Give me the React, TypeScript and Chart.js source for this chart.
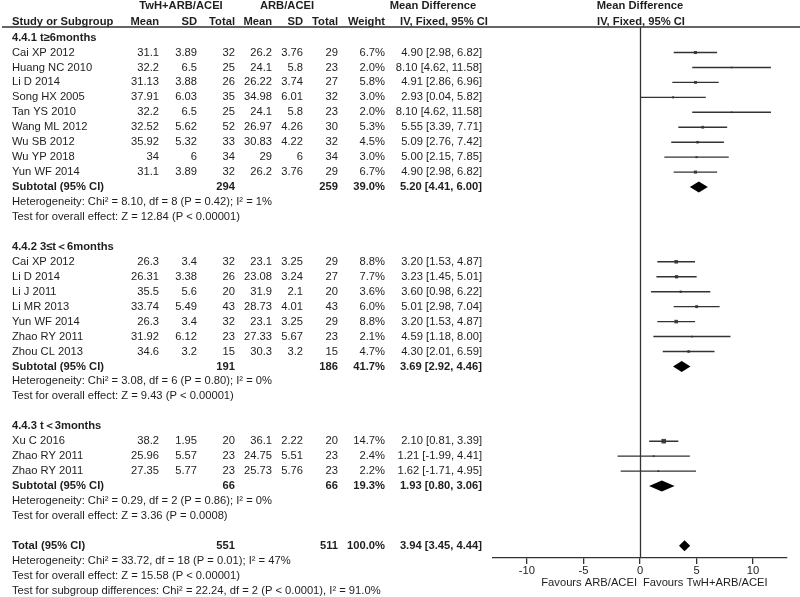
import React, { useEffect, useRef } from 'react';
import { Chart, registerables } from 'chart.js';

Chart.register(...registerables);

// ---------- Data ----------
const group1Label = '4.4.1 t≥6months';
const studies1 = ['Cai XP 2012', 'Huang NC 2010', 'Li D 2014', 'Song HX 2005', 'Tan YS 2010', 'Wang ML 2012', 'Wu SB 2012', 'Wu YP 2018', 'Yun WF 2014'];
const expMean1 = [31.1, 32.2, 31.13, 37.91, 32.2, 32.52, 35.92, 34, 31.1];
const expSd1 = [3.89, 6.5, 3.88, 6.03, 6.5, 5.62, 5.32, 6, 3.89];
const expN1 = [32, 25, 26, 35, 25, 52, 33, 34, 32];
const ctlMean1 = [26.2, 24.1, 26.22, 34.98, 24.1, 26.97, 30.83, 29, 26.2];
const ctlSd1 = [3.76, 5.8, 3.74, 6.01, 5.8, 4.26, 4.22, 6, 3.76];
const ctlN1 = [29, 23, 27, 32, 23, 30, 32, 34, 29];
const weight1 = [6.7, 2.0, 5.8, 3.0, 2.0, 5.3, 4.5, 3.0, 6.7];
const md1 = [4.90, 8.10, 4.91, 2.93, 8.10, 5.55, 5.09, 5.00, 4.90];
const lo1 = [2.98, 4.62, 2.86, 0.04, 4.62, 3.39, 2.76, 2.15, 2.98];
const hi1 = [6.82, 11.58, 6.96, 5.82, 11.58, 7.71, 7.42, 7.85, 6.82];
const sub1 = { expN: 294, ctlN: 259, weight: 39.0, md: 5.20, lo: 4.41, hi: 6.00 };
const het1 = 'Heterogeneity: Chi² = 8.10, df = 8 (P = 0.42); I² = 1%';
const eff1 = 'Test for overall effect: Z = 12.84 (P < 0.00001)';

const group2Label = '4.4.2 3≤t＜6months';
const studies2 = ['Cai XP 2012', 'Li D 2014', 'Li J 2011', 'Li MR 2013', 'Yun WF 2014', 'Zhao RY 2011', 'Zhou CL 2013'];
const expMean2 = [26.3, 26.31, 35.5, 33.74, 26.3, 31.92, 34.6];
const expSd2 = [3.4, 3.38, 5.6, 5.49, 3.4, 6.12, 3.2];
const expN2 = [32, 26, 20, 43, 32, 23, 15];
const ctlMean2 = [23.1, 23.08, 31.9, 28.73, 23.1, 27.33, 30.3];
const ctlSd2 = [3.25, 3.24, 2.1, 4.01, 3.25, 5.67, 3.2];
const ctlN2 = [29, 27, 20, 43, 29, 23, 15];
const weight2 = [8.8, 7.7, 3.6, 6.0, 8.8, 2.1, 4.7];
const md2 = [3.20, 3.23, 3.60, 5.01, 3.20, 4.59, 4.30];
const lo2 = [1.53, 1.45, 0.98, 2.98, 1.53, 1.18, 2.01];
const hi2 = [4.87, 5.01, 6.22, 7.04, 4.87, 8.00, 6.59];
const sub2 = { expN: 191, ctlN: 186, weight: 41.7, md: 3.69, lo: 2.92, hi: 4.46 };
const het2 = 'Heterogeneity: Chi² = 3.08, df = 6 (P = 0.80); I² = 0%';
const eff2 = 'Test for overall effect: Z = 9.43 (P < 0.00001)';

const group3Label = '4.4.3 t＜3months';
const studies3 = ['Xu C 2016', 'Zhao RY 2011', 'Zhao RY 2011'];
const expMean3 = [38.2, 25.96, 27.35];
const expSd3 = [1.95, 5.57, 5.77];
const expN3 = [20, 23, 23];
const ctlMean3 = [36.1, 24.75, 25.73];
const ctlSd3 = [2.22, 5.51, 5.76];
const ctlN3 = [20, 23, 23];
const weight3 = [14.7, 2.4, 2.2];
const md3 = [2.10, 1.21, 1.62];
const lo3 = [0.81, -1.99, -1.71];
const hi3 = [3.39, 4.41, 4.95];
const sub3 = { expN: 66, ctlN: 66, weight: 19.3, md: 1.93, lo: 0.80, hi: 3.06 };
const het3 = 'Heterogeneity: Chi² = 0.29, df = 2 (P = 0.86); I² = 0%';
const eff3 = 'Test for overall effect: Z = 3.36 (P = 0.0008)';

const total = { expN: 551, ctlN: 511, weight: 100.0, md: 3.94, lo: 3.45, hi: 4.44 };
const totalNotes = [
  'Heterogeneity: Chi² = 33.72, df = 18 (P = 0.01); I² = 47%',
  'Test for overall effect: Z = 15.58 (P < 0.00001)',
  'Test for subgroup differences: Chi² = 22.24, df = 2 (P < 0.0001), I² = 91.0%',
];

const xTicks = [-10, -5, 0, 5, 10];
const xMin = -13;
const xMax = 13;
const leftFavour = 'Favours ARB/ACEI';
const rightFavour = 'Favours TwH+ARB/ACEI';

// ---------- Build table ----------
type Group = {
  label: string; studies: string[]; expMean: number[]; expSd: number[]; expN: number[];
  ctlMean: number[]; ctlSd: number[]; ctlN: number[]; weight: number[]; md: number[];
  lo: number[]; hi: number[]; sub: typeof sub1; het: string; eff: string;
};
const groups: Group[] = [
  { label: group1Label, studies: studies1, expMean: expMean1, expSd: expSd1, expN: expN1, ctlMean: ctlMean1, ctlSd: ctlSd1, ctlN: ctlN1, weight: weight1, md: md1, lo: lo1, hi: hi1, sub: sub1, het: het1, eff: eff1 },
  { label: group2Label, studies: studies2, expMean: expMean2, expSd: expSd2, expN: expN2, ctlMean: ctlMean2, ctlSd: ctlSd2, ctlN: ctlN2, weight: weight2, md: md2, lo: lo2, hi: hi2, sub: sub2, het: het2, eff: eff2 },
  { label: group3Label, studies: studies3, expMean: expMean3, expSd: expSd3, expN: expN3, ctlMean: ctlMean3, ctlSd: ctlSd3, ctlN: ctlN3, weight: weight3, md: md3, lo: lo3, hi: hi3, sub: sub3, het: het3, eff: eff3 },
];

type StudyRow = { row: number; name: string; em: number; es: number; en: number; cm: number; cs: number; cn: number; w: number; md: number; lo: number; hi: number };
type SumRow = { row: number; name: string; expN: number; ctlN: number; weight: number; md: number; lo: number; hi: number };
type NoteRow = { row: number; text: string; bold: boolean };

const studyRows: StudyRow[] = [];
const sumRows: SumRow[] = [];
const noteRows: NoteRow[] = [];
let r = 0;
groups.forEach((g) => {
  noteRows.push({ row: r, text: g.label, bold: true });
  r++;
  g.studies.forEach((s, i) => {
    studyRows.push({ row: r, name: s, em: g.expMean[i], es: g.expSd[i], en: g.expN[i], cm: g.ctlMean[i], cs: g.ctlSd[i], cn: g.ctlN[i], w: g.weight[i], md: g.md[i], lo: g.lo[i], hi: g.hi[i] });
    r++;
  });
  sumRows.push({ row: r, name: 'Subtotal (95% CI)', ...g.sub });
  r++;
  noteRows.push({ row: r, text: g.het, bold: false });
  r++;
  noteRows.push({ row: r, text: g.eff, bold: false });
  r += 2;
});
sumRows.push({ row: r, name: 'Total (95% CI)', ...total });
r++;
totalNotes.forEach((t) => { noteRows.push({ row: r, text: t, bold: false }); r++; });

// ---------- Layout constants ----------
const FONT = '"Liberation Sans", Arial, sans-serif';
const FS = 11.2;
const TXT = '#1e1e1e';
const COL = { name: 12, em: 159, es: 197, en: 235, cm: 272, cs: 303, cn: 338, w: 385, ci: 482 };
const fmtCI = (m: number, l: number, h: number) => `${m.toFixed(2)} [${l.toFixed(2)}, ${h.toFixed(2)}]`;

const tablePlugin = {
  id: 'forestTable',
  beforeDatasetsDraw(chart: any) {
    const { ctx, chartArea } = chart;
    const xs = chart.scales.x;
    ctx.save();
    ctx.strokeStyle = '#333';
    ctx.lineWidth = 1.3;
    ctx.beginPath();
    ctx.moveTo(2, chartArea.top);
    ctx.lineTo(800, chartArea.top);
    const x0 = Math.round(xs.getPixelForValue(0)) + 0.5;
    ctx.moveTo(x0, chartArea.top);
    ctx.lineTo(x0, chartArea.bottom);
    ctx.stroke();
    ctx.restore();
  },
  afterDraw(chart: any) {
    const { ctx } = chart;
    const xs = chart.scales.x;
    const ys = chart.scales.y;
    const Y = (row: number) => ys.getPixelForValue(row);
    ctx.save();
    ctx.fillStyle = TXT;
    ctx.textBaseline = 'middle';
    const t = (s: string, x: number, y: number, align: CanvasTextAlign, bold = false) => {
      ctx.font = `${bold ? 'bold ' : ''}${FS}px ${FONT}`;
      ctx.textAlign = align;
      ctx.fillText(s, x, y);
    };
    // headers
    const h1 = Y(-2.1), h2 = Y(-1.05);
    t('TwH+ARB/ACEI', 181, h1, 'center', true);
    t('ARB/ACEI', 287, h1, 'center', true);
    t('Mean Difference', 433, h1, 'center', true);
    t('Mean Difference', 640, h1, 'center', true);
    t('Study or Subgroup', COL.name, h2, 'left', true);
    t('Mean', COL.em, h2, 'right', true);
    t('SD', COL.es, h2, 'right', true);
    t('Total', COL.en, h2, 'right', true);
    t('Mean', COL.cm, h2, 'right', true);
    t('SD', COL.cs, h2, 'right', true);
    t('Total', COL.cn, h2, 'right', true);
    t('Weight', COL.w, h2, 'right', true);
    t('IV, Fixed, 95% CI', 444, h2, 'center', true);
    t('IV, Fixed, 95% CI', 641, h2, 'center', true);

    studyRows.forEach((s) => {
      const y = Y(s.row);
      t(s.name, COL.name, y, 'left');
      t(String(s.em), COL.em, y, 'right');
      t(String(s.es), COL.es, y, 'right');
      t(String(s.en), COL.en, y, 'right');
      t(String(s.cm), COL.cm, y, 'right');
      t(String(s.cs), COL.cs, y, 'right');
      t(String(s.cn), COL.cn, y, 'right');
      t(`${s.w.toFixed(1)}%`, COL.w, y, 'right');
      t(fmtCI(s.md, s.lo, s.hi), COL.ci, y, 'right');
    });
    sumRows.forEach((s) => {
      const y = Y(s.row);
      t(s.name, COL.name, y, 'left', true);
      t(String(s.expN), COL.en, y, 'right', true);
      t(String(s.ctlN), COL.cn, y, 'right', true);
      t(`${s.weight.toFixed(1)}%`, COL.w, y, 'right', true);
      t(fmtCI(s.md, s.lo, s.hi), COL.ci, y, 'right', true);
      // diamond
      const xl = xs.getPixelForValue(s.lo), xm = xs.getPixelForValue(s.md), xh = xs.getPixelForValue(s.hi);
      ctx.beginPath();
      ctx.moveTo(xl, y);
      ctx.lineTo(xm, y - 5.5);
      ctx.lineTo(xh, y);
      ctx.lineTo(xm, y + 5.5);
      ctx.closePath();
      ctx.fillStyle = '#000';
      ctx.fill();
      ctx.fillStyle = TXT;
    });
    noteRows.forEach((n) => {
      t(n.text, COL.name, Y(n.row), 'left', n.bold);
    });
    // favours labels
    const fy = 583;
    const zx = xs.getPixelForValue(0);
    t(leftFavour, zx - 3, fy, 'right');
    t(rightFavour, zx + 3, fy, 'left');
    ctx.restore();
  },
};

export default function App() {
  const ref = useRef<HTMLCanvasElement | null>(null);
  useEffect(() => {
    if (!ref.current) return;
    const whisker: any[] = [];
    studyRows.forEach((s) => {
      whisker.push({ x: s.lo, y: s.row });
      whisker.push({ x: s.hi, y: s.row });
      whisker.push({ x: null, y: null });
    });
    const squares = studyRows.map((s) => ({ x: s.md, y: s.row }));
    const radii = studyRows.map((s) => (4.6 * Math.sqrt(s.w / 14.7)) / Math.SQRT2);
    const chart = new Chart(ref.current, {
      type: 'scatter',
      data: {
        datasets: [
          {
            type: 'line',
            data: whisker,
            borderColor: '#333',
            borderWidth: 1.4,
            pointRadius: 0,
            spanGaps: false,
            fill: false,
          } as any,
          {
            type: 'scatter',
            data: squares,
            pointStyle: 'rect',
            pointRadius: radii,
            backgroundColor: '#444',
            borderWidth: 0,
          } as any,
        ],
      },
      options: {
        animation: false,
        responsive: false,
        devicePixelRatio: 1,
        layout: { padding: { left: 493, right: 13, top: 27, bottom: 0 } },
        plugins: { legend: { display: false }, tooltip: { enabled: false } },
        scales: {
          x: {
            type: 'linear',
            min: xMin,
            max: xMax,
            afterFit: (scale: any) => { scale.height = 39; },
            afterBuildTicks: (scale: any) => { scale.ticks = xTicks.map((v) => ({ value: v })); },
            grid: { drawOnChartArea: false, drawTicks: true, tickLength: 6, color: '#333', lineWidth: 1.3 },
            border: { display: true, color: '#333', width: 1.3 },
            ticks: { padding: 0, color: '#222', font: { family: FONT, size: FS }, maxRotation: 0 },
          },
          y: {
            type: 'linear',
            display: false,
            reverse: true,
            min: -0.7057,
            max: 34.813,
          },
        },
      } as any,
      plugins: [tablePlugin],
    });
    return () => chart.destroy();
  }, []);
  return (
    <div style={{ position: 'fixed', left: 0, top: 0, width: 800, height: 597, background: '#fff' }}>
      <canvas ref={ref} width={800} height={597} style={{ width: 800, height: 597, display: 'block' }} />
    </div>
  );
}
